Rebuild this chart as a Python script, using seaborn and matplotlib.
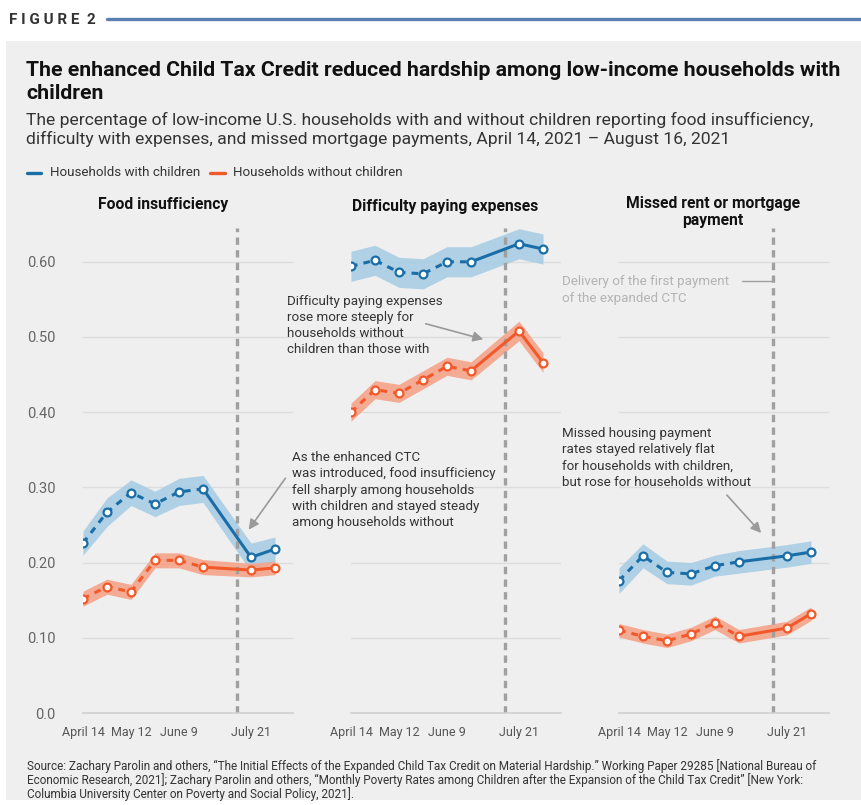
import numpy as np
import pandas as pd
import matplotlib
matplotlib.use("Agg")
import matplotlib.pyplot as plt
import seaborn as sns
from matplotlib.patches import Rectangle, FancyArrowPatch
from matplotlib.lines import Line2D

# ---------------- data ----------------
week_days = [0, 14, 28, 42, 56, 70, 98, 112]   # days after April 14, 2021
tick_days = [0, 28, 56, 98]
tick_labels = ["April 14", "May 12", "June 9", "July 21"]
ctc_day = 90                                    # first expanded CTC payment
y_ticks = [0.0, 0.10, 0.20, 0.30, 0.40, 0.50, 0.60]
y_tick_labels = ["0.0", "0.10", "0.20", "0.30", "0.40", "0.50", "0.60"]

panel_titles = [["Food insufficiency"], ["Difficulty paying expenses"],
                ["Missed rent or mortgage", "payment"]]
groups = ["Households with children", "Households without children"]

food_with = [0.226, 0.267, 0.293, 0.278, 0.294, 0.298, 0.207, 0.218]
food_without = [0.152, 0.168, 0.161, 0.203, 0.203, 0.194, 0.190, 0.193]
exp_with = [0.594, 0.602, 0.586, 0.584, 0.600, 0.600, 0.624, 0.617]
exp_without = [0.400, 0.430, 0.425, 0.443, 0.461, 0.455, 0.508, 0.466]
rent_with = [0.176, 0.209, 0.187, 0.185, 0.196, 0.201, 0.209, 0.214]
rent_without = [0.110, 0.102, 0.096, 0.105, 0.120, 0.102, 0.113, 0.132]

# half-widths of the confidence bands
food_with_moe = [0.016, 0.019, 0.017, 0.017, 0.018, 0.018, 0.019, 0.016]
food_without_moe = [0.010, 0.010, 0.010, 0.010, 0.010, 0.010, 0.009, 0.009]
exp_with_moe = [0.020, 0.020, 0.020, 0.020, 0.020, 0.020, 0.020, 0.020]
exp_without_moe = [0.012, 0.012, 0.012, 0.012, 0.012, 0.012, 0.013, 0.013]
rent_with_moe = [0.017, 0.016, 0.015, 0.015, 0.014, 0.015, 0.015, 0.015]
rent_without_moe = [0.009, 0.009, 0.009, 0.009, 0.009, 0.009, 0.009, 0.009]

panels = [
    (food_with, food_with_moe, food_without, food_without_moe),
    (exp_with, exp_with_moe, exp_without, exp_without_moe),
    (rent_with, rent_with_moe, rent_without, rent_without_moe),
]

BLUE = "#1a6ea8"
BLUE_BAND = "#a8cde4"
ORANGE = "#f2592a"
ORANGE_BAND = "#f5a48a"
BG = "#efefef"

sns.set_theme(style="white")
plt.rcParams["font.family"] = ["Roboto", "DejaVu Sans"]

W, H = 861, 805
fig = plt.figure(figsize=(W / 100, H / 100), dpi=100)
fig.patch.set_facecolor("white")
renderer = fig.canvas.get_renderer()


def fx(x):
    return x / W


def fy(y):
    return 1 - y / H


def fit(texts, ref, target_px):
    """Scale the font size of a group of texts so that `ref` spans target_px."""
    for _ in range(3):
        w = ref.get_window_extent(renderer=renderer).width
        if w <= 0:
            return
        fs = ref.get_fontsize() * target_px / w
        for t in texts:
            t.set_fontsize(fs)


# grey panel background
fig.add_artist(Rectangle((fx(6), fy(800)), fx(861) - fx(6), fy(41) - fy(800),
                         transform=fig.transFigure, facecolor=BG,
                         edgecolor="none", zorder=-10))

# header
fig.text(fx(9), fy(24), "F I G U R E  2", fontsize=11, fontweight="bold",
         color="#333333", va="baseline", ha="left")
fig.add_artist(Line2D([fx(107), fx(861)], [fy(19), fy(19)],
                      transform=fig.transFigure, color="#5b7fae", lw=2.4))

t1 = fig.text(fx(26), fy(76), "The enhanced Child Tax Credit reduced hardship among low-income households with",
              fontsize=15.4, fontweight="bold", color="#111111", va="baseline")
t2 = fig.text(fx(26), fy(99), "children", fontsize=15.4, fontweight="bold",
              color="#111111", va="baseline")
fit([t1, t2], t1, 817)
s1 = fig.text(fx(26), fy(125), "The percentage of low-income U.S. households with and without children reporting food insufficiency,",
              fontsize=11.5, color="#333333", va="baseline")
s2 = fig.text(fx(26), fy(144), "difficulty with expenses, and missed mortgage payments, April 14, 2021 \u2013 August 16, 2021",
              fontsize=11.5, color="#333333", va="baseline")
fit([s1, s2], s1, 782)

# legend
fig.add_artist(Line2D([fx(27), fx(41)], [fy(173), fy(173)], transform=fig.transFigure,
                      color=BLUE, lw=2.4))
l1 = fig.text(fx(50), fy(173), groups[0], fontsize=9.5, color="#333333", va="center")
fig.add_artist(Line2D([fx(210), fx(225)], [fy(173), fy(173)], transform=fig.transFigure,
                      color=ORANGE, lw=2.4))
l2 = fig.text(fx(233), fy(173), groups[1], fontsize=9.5, color="#333333", va="center")
fit([l1, l2], l1, 150)

ax_lefts = [83, 351, 619]
ax_width = 210
y_top_val = 0.645
ax_bottom_px = 713
px_per_unit = 752
ax_h_px = y_top_val * px_per_unit
xmax = 122.5

title_pos = [(163, [209]), (445, [211]), (713, [208, 225])]
title_texts = []
for i, (left, (w_vals, w_moe, wo_vals, wo_moe)) in enumerate(zip(ax_lefts, panels)):
    ax = fig.add_axes([fx(left), fy(ax_bottom_px), ax_width / W, ax_h_px / H])
    ax.set_facecolor("none")
    ax.set_xlim(0, xmax)
    ax.set_ylim(0, y_top_val)
    for yv in y_ticks[1:]:
        ax.axhline(yv, color="#dcdcdc", lw=1, zorder=0)

    for vals, moe, col, band in [(w_vals, w_moe, BLUE, BLUE_BAND),
                                 (wo_vals, wo_moe, ORANGE, ORANGE_BAND)]:
        v = np.array(vals)
        m = np.array(moe)
        ax.fill_between(week_days, v - m, v + m, color=band, lw=0, zorder=1, alpha=0.9)
        df = pd.DataFrame({"day": week_days, "value": vals})
        sns.lineplot(data=df.iloc[:6], x="day", y="value", ax=ax, color=col,
                     lw=2.2, linestyle=(0, (2.2, 2.0)), zorder=3, errorbar=None)
        sns.lineplot(data=df.iloc[5:], x="day", y="value", ax=ax, color=col,
                     lw=2.2, zorder=3, errorbar=None)
        sns.scatterplot(data=df, x="day", y="value", ax=ax, color="white",
                        edgecolor=col, s=32, linewidth=1.6, zorder=4)

    ax.axvline(ctc_day, color="#a0a0a0", lw=2.4, linestyle=(0, (2.2, 1.6)), zorder=2)

    ax.set_xticks(tick_days)
    ax.set_xticklabels(tick_labels)
    ax.set_yticks(y_ticks)
    if i == 0:
        ax.set_yticklabels(y_tick_labels)
    else:
        ax.set_yticklabels([])
    ax.tick_params(axis="y", length=0, pad=20, labelsize=10.5, labelcolor="#666666")
    ax.tick_params(axis="x", length=5, width=1, color="#cccccc", pad=4,
                   labelsize=9, labelcolor="#555555", direction="out")
    ax.set_xlabel("")
    ax.set_ylabel("")
    for s in ["top", "right", "left"]:
        ax.spines[s].set_visible(False)
    ax.spines["bottom"].set_color("#d0d0d0")
    ax.spines["bottom"].set_linewidth(1.2)

    cx, ys = title_pos[i]
    for t, yy in zip(panel_titles[i], ys):
        title_texts.append(fig.text(fx(cx), fy(yy), t, ha="center", va="baseline",
                                    fontsize=10.5, fontweight="bold", color="#111111"))
fit(title_texts, title_texts[1], 185)

# annotations
ann_color = "#333333"
ann_fs = 9.6
ann_texts = []


def lines_at(x, ys, texts, color=ann_color):
    out = []
    for yy, t in zip(ys, texts):
        out.append(fig.text(fx(x), fy(yy), t, fontsize=ann_fs, color=color,
                            va="baseline", ha="left"))
    ann_texts.extend(out)
    return out


a1 = lines_at(292, [461, 477, 494, 510, 526],
              ["As the enhanced CTC", "was introduced, food insufficiency",
               "fell sharply among households", "with children and stayed steady",
               "among households without"])
a2 = lines_at(287, [305, 321, 337, 353],
              ["Difficulty paying expenses", "rose more steeply for",
               "households without", "children than those with"])
a3 = lines_at(562, [285, 302],
              ["Delivery of the first payment", "of the expanded CTC"], color="#b3b3b3")
a4 = lines_at(562, [437, 453, 470, 486],
              ["Missed housing payment", "rates stayed relatively flat",
               "for households with children,", "but rose for households without"])
fit(ann_texts, a2[0], 156)

fig.add_artist(Line2D([fx(742), fx(772)], [fy(281), fy(281)], transform=fig.transFigure,
                      color="#a0a0a0", lw=1))


def arrow(p0, p1):
    fig.add_artist(FancyArrowPatch((fx(p0[0]), fy(p0[1])), (fx(p1[0]), fy(p1[1])),
                                   transform=fig.transFigure,
                                   arrowstyle="-|>,head_length=6,head_width=3",
                                   color="#9a9a9a", lw=1.2, mutation_scale=1))


arrow((287, 476), (247, 532))
arrow((423, 323), (486, 340))
arrow((725, 493), (763, 535))

# footnote
foot = ["Source: Zachary Parolin and others, \u201cThe Initial Effects of the Expanded Child Tax Credit on Material Hardship.\u201d Working Paper 29285 [National Bureau of",
        "Economic Research, 2021]; Zachary Parolin and others, \u201cMonthly Poverty Rates among Children after the Expansion of the Child Tax Credit\u201d [New York:",
        "Columbia University Center on Poverty and Social Policy, 2021]."]
foot_texts = []
for yy, t in zip([770, 784, 798], foot):
    foot_texts.append(fig.text(fx(27), fy(yy), t, fontsize=8.3, color="#333333",
                               va="baseline",
                               family=["Liberation Sans Narrow", "Roboto", "DejaVu Sans"]))
fit(foot_texts, foot_texts[0], 801)

fig.savefig("out.png", dpi=100, facecolor="white")
